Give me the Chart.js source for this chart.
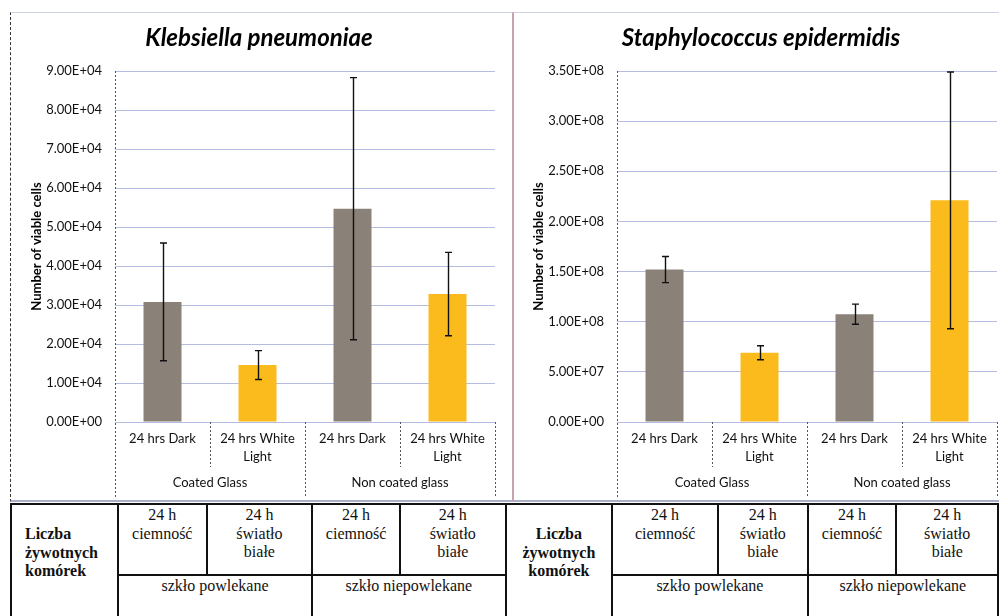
<!DOCTYPE html>
<html lang="pl">
<head>
<meta charset="UTF-8">
<title>Liczba żywotnych komórek</title>
<style>
    body {
        margin: 0;
        width: 999px;
        height: 616px;
        overflow: hidden;
        background: #fff;
        position: relative;
    }
    .frame {
        position: absolute;
        top: 12px;
        height: 487px;
        border-top: 1px solid #cdd2e6;
        border-bottom: 2px solid #aab0ca;
    }
    #frameK { left: 10px; width: 502px; border-left: 1px dashed #333; }
    #frameS { left: 512px; width: 490px; border-left: 2px solid #c9a2b0; }
    canvas { position: absolute; top: 0; }
    #chartK { left: 0; }
    #chartS { left: 510px; }
    table {
        position: absolute;
        left: 10px;
        top: 503px;
        border-collapse: collapse;
        table-layout: fixed;
        color: #111;
    }
    td {
        font-family: "Liberation Serif", "DejaVu Serif", serif;
        font-size: 16px;
        line-height: 18.5px;
        border: 2px solid #111;
        text-align: center;
        vertical-align: top;
        padding: 1px 2px 0 2px;
    }
    tr.r1 td { height: 68px; }
    tr.r2 td { height: 80px; }
    td.head {
        font-weight: bold;
        padding-top: 20px;
    }
    td.left { text-align: left; padding-left: 13px; }
</style>
<script src="https://cdn.jsdelivr.net/npm/chart.js"></script>
</head>
<body>
<div class="frame" id="frameK"></div>
<div class="frame" id="frameS"></div>
<canvas id="chartK" width="510" height="500"></canvas>
<canvas id="chartS" width="489" height="500"></canvas>

<table>
    <colgroup>
        <col style="width:107px"><col style="width:89px"><col style="width:106px"><col style="width:88px"><col style="width:106px">
        <col style="width:107px"><col style="width:106px"><col style="width:90px"><col style="width:89px"><col style="width:102px">
    </colgroup>
    <tr class="r1">
        <td rowspan="2" class="head left">Liczba<br>żywotnych<br>komórek</td>
        <td>24 h<br>ciemność</td>
        <td>24 h<br>światło<br>białe</td>
        <td>24 h<br>ciemność</td>
        <td>24 h<br>światło<br>białe</td>
        <td rowspan="2" class="head">Liczba<br>żywotnych<br>komórek</td>
        <td>24 h<br>ciemność</td>
        <td>24 h<br>światło<br>białe</td>
        <td>24 h<br>ciemność</td>
        <td>24 h<br>światło<br>białe</td>
    </tr>
    <tr class="r2">
        <td colspan="2">szkło powlekane</td>
        <td colspan="2">szkło niepowlekane</td>
        <td colspan="2">szkło powlekane</td>
        <td colspan="2">szkło niepowlekane</td>
    </tr>
</table>

<script>
    // dane
    var categories = [['24 hrs Dark'], ['24 hrs White', 'Light'], ['24 hrs Dark'], ['24 hrs White', 'Light']];
    var groups = ['Coated Glass', 'Non coated glass'];
    var barColors = ['#8a8178', '#fbbb1c', '#8a8178', '#fbbb1c'];

    var kTitle = 'Klebsiella pneumoniae';
    var kValues = [30800, 14600, 54700, 32800];
    var kErrors = [15100, 3700, 33600, 10700];
    var kTicks = ['0.00E+00', '1.00E+04', '2.00E+04', '3.00E+04', '4.00E+04', '5.00E+04',
                  '6.00E+04', '7.00E+04', '8.00E+04', '9.00E+04'];

    var sTitle = 'Staphylococcus epidermidis';
    var sValues = [1.52e8, 0.69e8, 1.075e8, 2.21e8];
    var sErrors = [0.13e8, 0.07e8, 0.10e8, 1.28e8];
    var sTicks = ['0.00E+00', '5.00E+07', '1.00E+08', '1.50E+08', '2.00E+08', '2.50E+08',
                  '3.00E+08', '3.50E+08'];

    var yTitle = 'Number of viable cells';
    var font = 'Lato, "Open Sans", sans-serif';

    function makeChart(id, title, values, errors, ticks, yMax, yStep, padLeft, padRight) {
        var extras = {
            id: 'extras',
            afterDraw: function (chart) {
                var ctx = chart.ctx;
                var a = chart.chartArea;
                var x = chart.scales.x;
                var y = chart.scales.y;
                ctx.save();

                // słupki błędów
                ctx.strokeStyle = '#111';
                ctx.lineWidth = 1.4;
                for (var i = 0; i < values.length; i++) {
                    var px = Math.round(x.getPixelForValue(i)) + 0.5;
                    var top = y.getPixelForValue(values[i] + errors[i]);
                    var bot = y.getPixelForValue(values[i] - errors[i]);
                    ctx.beginPath();
                    ctx.moveTo(px, top); ctx.lineTo(px, bot);
                    ctx.moveTo(px - 3.5, top); ctx.lineTo(px + 3.5, top);
                    ctx.moveTo(px - 3.5, bot); ctx.lineTo(px + 3.5, bot);
                    ctx.stroke();
                }

                // oś Y i podział osi kategorii (linie przerywane)
                var half = (x.getPixelForValue(1) - x.getPixelForValue(0)) / 2;
                ctx.strokeStyle = '#555';
                ctx.lineWidth = 1;
                ctx.setLineDash([2, 2]);
                for (var j = 0; j <= values.length; j++) {
                    var bx = Math.round(x.getPixelForValue(0) - half + j * half * 2) + 0.5;
                    var len = (j % 2 === 0) ? 75 : 45;
                    ctx.beginPath();
                    ctx.moveTo(bx, j === 0 ? a.top : a.bottom);
                    ctx.lineTo(bx, a.bottom + len);
                    ctx.stroke();
                }
                ctx.setLineDash([]);

                // etykiety kategorii
                ctx.fillStyle = '#111';
                ctx.textAlign = 'center';
                ctx.textBaseline = 'middle';
                ctx.font = '13px ' + font;
                categories.forEach(function (lines, i) {
                    var cx = x.getPixelForValue(i);
                    lines.forEach(function (t, k) {
                        ctx.fillText(t, cx, a.bottom + 17 + k * 18);
                    });
                });
                groups.forEach(function (g, i) {
                    var gx = (x.getPixelForValue(i * 2) + x.getPixelForValue(i * 2 + 1)) / 2;
                    ctx.fillText(g, gx, a.bottom + 61);
                });

                // tytuł wykresu
                ctx.font = 'italic bold 24px ' + font;
                ctx.fillStyle = '#000';
                ctx.fillText(title, (a.left + a.right) / 2 - 46, 38);

                // tytuł osi Y
                ctx.translate(a.left - 78, (a.top + a.bottom) / 2);
                ctx.rotate(-Math.PI / 2);
                ctx.font = 'bold 13px ' + font;
                ctx.fillText(yTitle, 0, 0);
                ctx.restore();
            }
        };

        return new Chart(document.getElementById(id), {
            type: 'bar',
            data: {
                labels: categories,
                datasets: [{
                    data: values,
                    backgroundColor: barColors,
                    categoryPercentage: 1,
                    barPercentage: 0.4
                }]
            },
            options: {
                responsive: false,
                animation: false,
                devicePixelRatio: 1,
                layout: { padding: { left: padLeft, right: padRight, top: 71, bottom: 0 } },
                plugins: {
                    legend: { display: false },
                    tooltip: { enabled: false }
                },
                scales: {
                    x: {
                        grid: { display: false, drawTicks: false },
                        border: { display: false },
                        ticks: { display: false },
                        afterFit: function (s) { s.height = 78; }
                    },
                    y: {
                        min: 0,
                        max: yMax,
                        ticks: {
                            stepSize: yStep,
                            padding: 13,
                            color: '#111',
                            font: { family: font, size: 13 },
                            callback: function (v, i) { return ticks[i]; }
                        },
                        grid: { color: '#b6bbe2', drawTicks: false },
                        border: { display: false },
                        afterFit: function (s) { s.width = 105; }
                    }
                }
            },
            plugins: [extras]
        });
    }

    makeChart('chartK', kTitle, kValues, kErrors, kTicks, 90000, 10000, 10, 15);
    makeChart('chartS', sTitle, sValues, sErrors, sTicks, 3.5e8, 5e7, 2, 2);
</script>
</body>
</html>
